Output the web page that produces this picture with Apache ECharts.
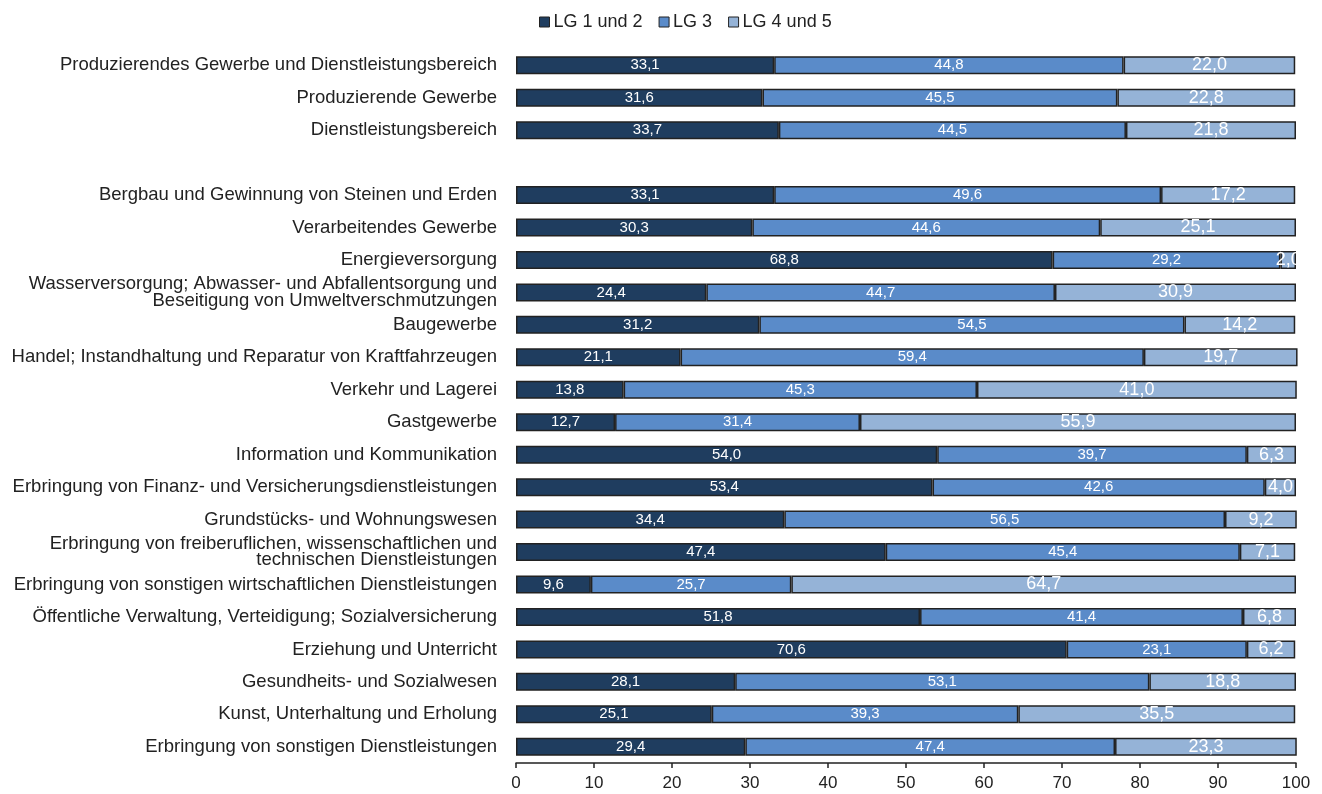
<!DOCTYPE html>
<html>
<head>
<meta charset="utf-8">
<script src="https://cdn.jsdelivr.net/npm/echarts@6/dist/echarts.min.js"></script>
<style>
  html, body { margin: 0; padding: 0; background: #fff; }
  #chart { width: 1322px; height: 794px; }
</style>
</head>
<body>
<div id="chart"></div>
<script>
var categories = [
  'Produzierendes Gewerbe und Dienstleistungsbereich',
  'Produzierende Gewerbe',
  'Dienstleistungsbereich',
  '',
  'Bergbau und Gewinnung von Steinen und Erden',
  'Verarbeitendes Gewerbe',
  'Energieversorgung',
  'Wasserversorgung; Abwasser- und Abfallentsorgung und\nBeseitigung von Umweltverschmutzungen',
  'Baugewerbe',
  'Handel; Instandhaltung und Reparatur von Kraftfahrzeugen',
  'Verkehr und Lagerei',
  'Gastgewerbe',
  'Information und Kommunikation',
  'Erbringung von Finanz- und Versicherungsdienstleistungen',
  'Grundstücks- und Wohnungswesen',
  'Erbringung von freiberuflichen, wissenschaftlichen und\ntechnischen Dienstleistungen',
  'Erbringung von sonstigen wirtschaftlichen Dienstleistungen',
  'Öffentliche Verwaltung, Verteidigung; Sozialversicherung',
  'Erziehung und Unterricht',
  'Gesundheits- und Sozialwesen',
  'Kunst, Unterhaltung und Erholung',
  'Erbringung von sonstigen Dienstleistungen'
];
var lg12 = [33.1, 31.6, 33.7, null, 33.1, 30.3, 68.8, 24.4, 31.2, 21.1, 13.8, 12.7, 54.0, 53.4, 34.4, 47.4, 9.6, 51.8, 70.6, 28.1, 25.1, 29.4];
var lg3  = [44.8, 45.5, 44.5, null, 49.6, 44.6, 29.2, 44.7, 54.5, 59.4, 45.3, 31.4, 39.7, 42.6, 56.5, 45.4, 25.7, 41.4, 23.1, 53.1, 39.3, 47.4];
var lg45 = [22.0, 22.8, 21.8, null, 17.2, 25.1, 2.0, 30.9, 14.2, 19.7, 41.0, 55.9, 6.3, 4.0, 9.2, 7.1, 64.7, 6.8, 6.2, 18.8, 35.5, 23.3];
var seriesNames = ['LG 1 und 2', 'LG 3', 'LG 4 und 5'];
var colors = ['#1f3d5f', '#5a8bc9', '#95b3d7'];

function fmt(p) {
  return p.value == null ? '' : p.value.toFixed(1).replace('.', ',');
}

function makeSeries(name, data, color, fontSize) {
  return {
    name: name,
    type: 'bar',
    stack: 'total',
    barWidth: 18,
    clip: false,
    data: data,
    itemStyle: { color: color, borderColor: '#222', borderWidth: 1.5 },
    label: {
      show: true,
      position: 'inside',
      color: '#fff',
      fontSize: fontSize,
      fontFamily: 'Liberation Sans, Arial, sans-serif',
      formatter: fmt
    }
  };
}

var myChart = echarts.init(document.getElementById('chart'));
var option = {
  animation: false,
  color: colors,
  textStyle: { fontFamily: 'Liberation Sans, Arial, sans-serif' },
  legend: {
    top: 8,
    left: 534,
    itemWidth: 10,
    itemHeight: 10,
    itemGap: 16,
    icon: 'rect',
    itemStyle: { borderColor: '#222', borderWidth: 1 },
    textStyle: { fontSize: 18, color: '#222', padding: [0, 0, 0, -1] },
    data: seriesNames
  },
  grid: {
    left: 516,
    right: 26,
    top: 49,
    bottom: 31,
    containLabel: false
  },
  xAxis: {
    type: 'value',
    min: 0,
    max: 100,
    interval: 10,
    axisLine: { show: true, lineStyle: { color: '#222', width: 1.5 } },
    axisTick: { show: true, inside: false, length: 5, lineStyle: { color: '#222', width: 1.5 } },
    axisLabel: { color: '#222', fontSize: 17, margin: 12 },
    splitLine: { show: false }
  },
  yAxis: {
    type: 'category',
    inverse: true,
    data: categories,
    axisLine: { show: false },
    axisTick: { show: false },
    axisLabel: { color: '#222', fontSize: 18.5, margin: 19, lineHeight: 16.5, align: 'right' }
  },
  series: [
    makeSeries(seriesNames[0], lg12, colors[0], 15),
    makeSeries(seriesNames[1], lg3, colors[1], 15),
    makeSeries(seriesNames[2], lg45, colors[2], 18)
  ]
};
myChart.setOption(option);
</script>
</body>
</html>
